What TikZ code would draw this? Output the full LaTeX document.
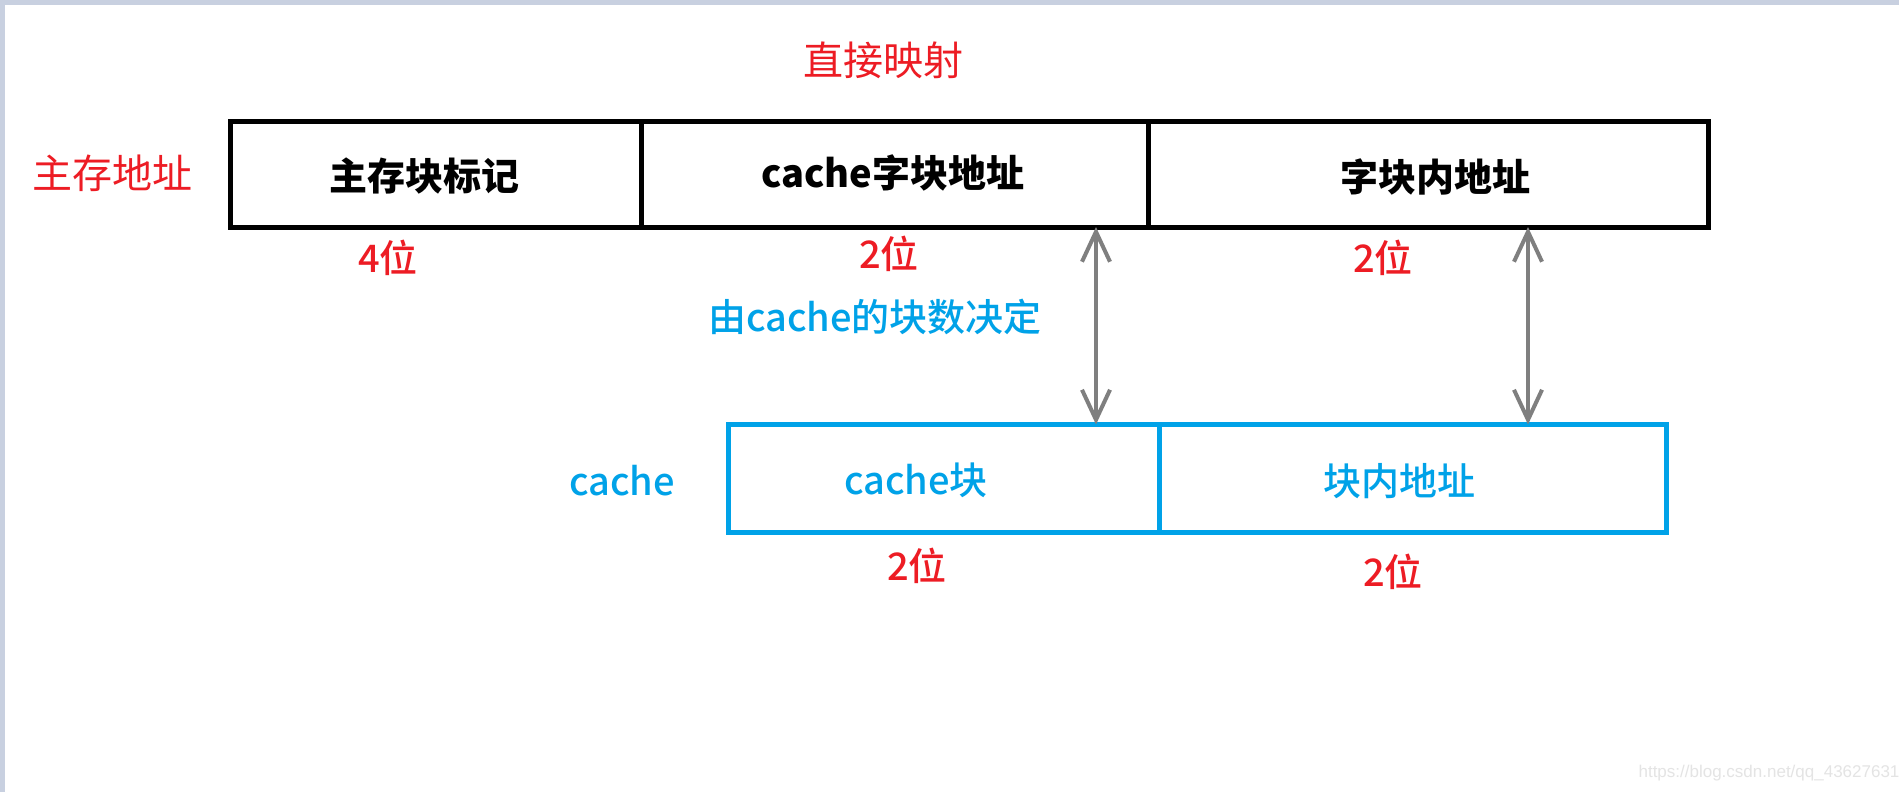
\documentclass[tikz,border=0pt]{standalone}
\usepackage{fontspec}
\setmainfont{Noto Sans CJK SC}
\newfontfamily\medfont{Noto Sans CJK SC Medium}
\newfontfamily\wmfont{Liberation Sans}
\usetikzlibrary{arrows.meta}
\definecolor{pred}{HTML}{ED1C24}
\definecolor{pblue}{HTML}{00A2E8}
\definecolor{pgrey}{HTML}{7F7F7F}
\definecolor{frameband}{HTML}{C8D0E0}
\definecolor{wmgrey}{HTML}{E4E4E4}
\tikzset{
  txt/.style={inner sep=0pt, text height=33.4pt, text depth=4.6pt},
  redlbl/.style={inner sep=0pt, text height=35.2pt, text depth=4.8pt, text=pred, font=\fontsize{40}{44}\selectfont},
  bits/.style={txt, text=pred, font=\medfont\fontsize{38}{44}\selectfont},
  blacklbl/.style={txt, text=black, font=\fontsize{38}{44}\selectfont\bfseries},
  bluelbl/.style={txt, text=pblue, font=\medfont\fontsize{38}{44}\selectfont},
  mcell/.style={draw=black, line width=5pt, inner sep=0pt, outer sep=0pt, minimum height=106pt},
  ccell/.style={draw=pblue, line width=5pt, inner sep=0pt, outer sep=0pt, minimum height=108pt},
  arr/.style={draw=pgrey, line width=4pt, {Straight Barb[length=30pt,width=28pt]}-{Straight Barb[length=30pt,width=28pt]}}
}
\begin{document}
\begin{tikzpicture}[x=1pt,y=-1pt]
\useasboundingbox (0,0) rectangle (1899,792);
\fill[white] (0,0) rectangle (1899,792);
\fill[frameband] (0,0) rectangle (1899,5);
\fill[frameband] (0,0) rectangle (5,792);

% title and side label
\node[redlbl] (title) at (883,60) {直接映射};
\node[redlbl] (mainaddr) at (112,173) {主存地址};

% main memory address fields
\node[mcell, minimum width=411pt] (tag) at (435.5,174) {};
\node[mcell, minimum width=507pt] (word) at (894.5,174) {};
\node[mcell, minimum width=560pt] (inner) at (1428,174) {};
\node[blacklbl] (tagtxt) at (424,176) {主存块标记};
\node[blacklbl] (wordtxt) at (893,173) {cache字块地址};
\node[blacklbl] (innertxt) at (1435,177) {字块内地址};

\node[bits] (b1) at (388,258) {4位};
\node[bits] (b2) at (889,254) {2位};
\node[bits] (b3) at (1383,258) {2位};

\node[bluelbl] (note) at (875,317) {由cache的块数决定};

% cache fields
\node[bluelbl] (cachelbl) at (622,481) {cache};
\node[ccell, minimum width=431pt] (cblk) at (943.5,478.5) {};
\node[ccell, minimum width=507pt] (cinner) at (1412.5,478.5) {};
\node[bluelbl] (cblktxt) at (916,480) {cache块};
\node[bluelbl] (cinnertxt) at (1399,481) {块内地址};

\node[bits] (b4) at (917,566) {2位};
\node[bits] (b5) at (1393,572) {2位};

% arrows
\coordinate (a1) at (1096,0);
\coordinate (a2) at (1528,0);
\draw[arr] (a1 |- word.south) -- (a1 |- cblk.north);
\draw[arr] (a2 |- inner.south) -- (a2 |- cinner.north);

% watermark
\node[inner sep=0pt, text=wmgrey, font=\wmfont\fontsize{17}{20}\selectfont] (wm) at (1769,773) {https://blog.csdn.net/qq\_43627631};
\end{tikzpicture}
\end{document}
